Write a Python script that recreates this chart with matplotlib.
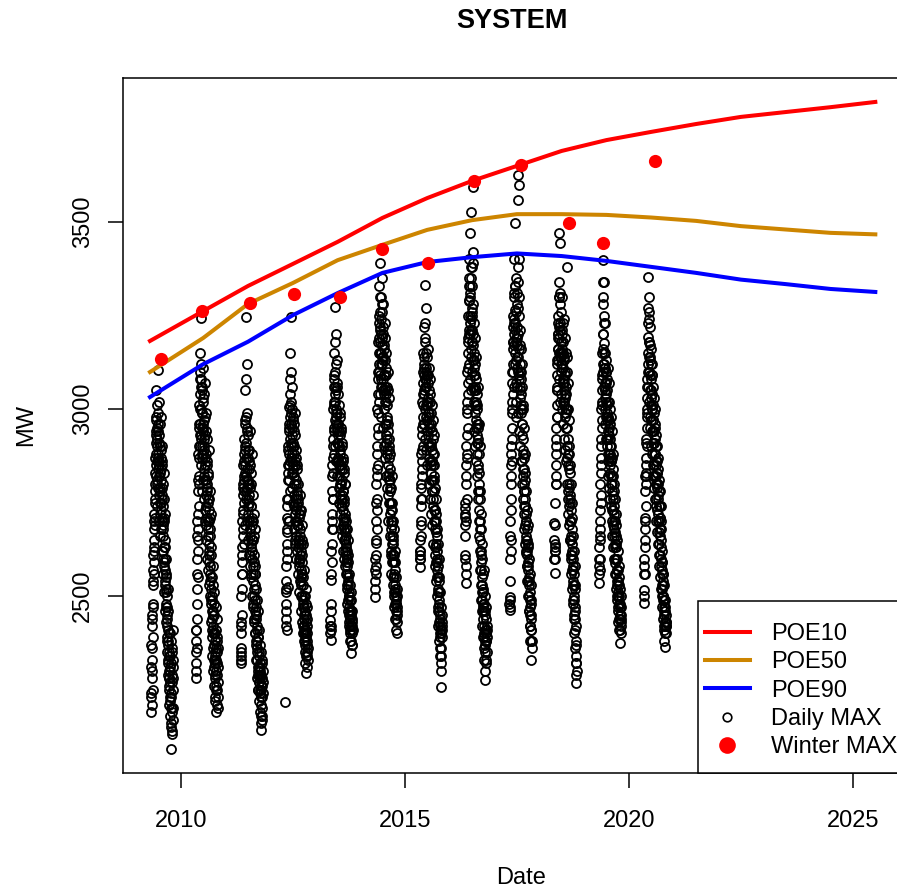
import numpy as np
import pandas as pd
import matplotlib
matplotlib.use('Agg')
import matplotlib.pyplot as plt
import matplotlib.dates as mdates
from matplotlib.lines import Line2D
from matplotlib.patches import Rectangle

plt.rcParams['font.family'] = ['Liberation Sans', 'DejaVu Sans']

# POE curves (MW), read at these dates
curve_dates = ['2009-04-23'] + ['%d-07-01' % y for y in range(2010, 2026)]
poe10 = [3182, 3262, 3329, 3388, 3447, 3511, 3564, 3610, 3650, 3690, 3719,
         3741, 3762, 3781, 3794, 3807, 3821]
poe50 = [3099, 3190, 3281, 3337, 3398, 3439, 3479, 3505, 3521, 3521, 3519,
         3512, 3503, 3489, 3480, 3471, 3467]
poe90 = [3032, 3120, 3180, 3251, 3310, 3364, 3393, 3406, 3416, 3409, 3396,
         3380, 3364, 3346, 3334, 3321, 3313]

# winter maximum per season
winter_dates = ['2009-07-19', '2010-06-24', '2011-07-16', '2012-07-08',
                '2013-07-16', '2014-06-28', '2015-07-05', '2016-07-16',
                '2017-08-04', '2018-09-02', '2019-06-07', '2020-08-03']
winter_max = [3134, 3262, 3283, 3308, 3299, 3428, 3390, 3610, 3652, 3497,
              3443, 3663]

# daily maximum (MW), one value per day from 1 May of each winter season
daily_2009 = [2240, 2370, 2310, 2230, 2190, 2300, 2420, 2330, 2280, 2440, 2360, 2210, 2450, 2390, 2250, 2480, 2530, 2570, 2610, 2540, 2470, 2630, 2680, 2560, 2590, 2700, 2720, 2620, 2650, 2750, 2800, 2710,
              2760, 2830, 2870, 2780, 2690, 2850, 2930, 2880, 2820, 2910, 2980, 2940, 3050, 2970, 2900, 2810, 2740, 2800, 2860, 2920, 2950, 3010, 3104, 2960, 2880, 2840, 2790, 2870, 2940, 2990,
              3020, 2930, 2850, 2770, 2700, 2820, 2910, 2860, 2780, 2720, 2960, 2900, 2830, 2750, 2660, 2790, 2890, 2840, 2750, 2680, 2980, 2870, 2810, 2730, 2700, 2790, 2860, 2760, 2620, 2710, 2770, 2850,
              2900, 2800, 2680, 2600, 2560, 2690, 2740, 2660, 2620, 2760, 2830, 2710, 2510, 2580, 2700, 2630, 2590, 2530, 2460, 2570, 2650, 2600, 2540, 2630, 2720, 2550, 2480, 2520, 2600, 2470,
              2430, 2510, 2560, 2440, 2380, 2470, 2500, 2390, 2350, 2420, 2450, 2320, 2290, 2370, 2410, 2460, 2520, 2380, 2330, 2280, 2260, 2340, 2400, 2300, 2210, 2280, 2350, 2250, 2300, 2230,
              2180, 2220, 2270, 2340, 2400, 2310, 2150, 2230, 2320, 2380, 2240, 2160, 2090, 2200, 2360, 2270, 2200, 2140, 2290, 2350, 2130, 2190, 2410, 2310, 2250, 2200, 2170, 2280, 2330]
daily_2010 = [2300, 2410, 2380, 2320, 2280, 2350, 2410, 2480, 2520, 2440, 2360, 2560, 2600, 2660, 2700, 2620, 2550, 2680, 2780, 2720, 2650, 2810, 2880, 2800, 2740, 2900, 2950, 2870, 2820, 2960, 3010, 2930,
              2900, 3040, 3080, 3000, 2960, 3100, 3150, 3060, 2850, 2930, 3000, 3120, 3243, 3080, 2920, 2990, 3060, 2900, 2780, 2880, 2990, 3050, 2870, 2950, 3110, 3020, 2940, 2880, 2810, 2960,
              3030, 2950, 2890, 2820, 2760, 2900, 2970, 3040, 2840, 2920, 3070, 2980, 2700, 2850, 2930, 2870, 2810, 2730, 2650, 2770, 2880, 2940, 2990, 2810, 2740, 2690, 2860, 2780, 2600, 2710, 2790, 2850,
              2920, 2800, 2680, 2760, 2830, 2700, 2570, 2660, 2750, 2820, 2640, 2590, 2890, 2730, 2530, 2620, 2700, 2760, 2610, 2540, 2780, 2680, 2500, 2580, 2660, 2710, 2560, 2490, 2720, 2630,
              2480, 2550, 2610, 2520, 2430, 2490, 2550, 2460, 2390, 2440, 2500, 2410, 2340, 2400, 2460, 2530, 2580, 2450, 2300, 2360, 2420, 2480, 2370, 2310, 2510, 2400, 2260, 2330, 2450, 2380,
              2350, 2280, 2230, 2320, 2400, 2340, 2290, 2220, 2190, 2260, 2330, 2410, 2470, 2360, 2250, 2300, 2380, 2290, 2210, 2250, 2320, 2390, 2440, 2350, 2270, 2230, 2200, 2310, 2360]
daily_2011 = [2330, 2350, 2360, 2400, 2420, 2340, 2320, 2430, 2500, 2560, 2610, 2520, 2450, 2590, 2700, 2630, 2560, 2680, 2790, 2720, 2660, 2770, 2850, 2800, 2730, 2860, 2920, 2810, 2640, 2750, 2880, 2820,
              2780, 2890, 2960, 2850, 2690, 2900, 3050, 2970, 2830, 2780, 2910, 3080, 3246, 2980, 2760, 2820, 2870, 2940, 2990, 2810, 2700, 2790, 2840, 2950, 3120, 2890, 2650, 2760, 2930, 2870,
              2800, 2740, 2720, 2810, 2890, 2770, 2610, 2700, 2860, 2800, 2750, 2840, 2940, 2680, 2580, 2660, 2790, 2850, 2680, 2610, 2830, 2740, 2550, 2640, 2740, 2800, 2630, 2560, 2880, 2710, 2500, 2620,
              2700, 2650, 2600, 2690, 2770, 2580, 2470, 2560, 2650, 2700, 2540, 2480, 2720, 2590, 2430, 2520, 2610, 2660, 2500, 2440, 2680, 2560, 2400, 2490, 2580, 2530, 2460, 2400, 2560, 2450,
              2380, 2450, 2520, 2470, 2440, 2370, 2330, 2410, 2490, 2360, 2280, 2330, 2420, 2380, 2350, 2290, 2250, 2310, 2460, 2390, 2300, 2250, 2390, 2310, 2220, 2270, 2340, 2290, 2270, 2350,
              2410, 2300, 2190, 2240, 2310, 2280, 2250, 2320, 2370, 2260, 2160, 2210, 2290, 2350, 2230, 2180, 2142, 2250, 2330, 2280, 2200, 2170, 2260, 2320, 2180, 2230, 2300, 2270, 2240]
daily_2012 = [2217, 2480, 2420, 2540, 2510, 2440, 2460, 2520, 2580, 2640, 2409, 2600, 2670, 2710, 2740, 2680, 2620, 2760, 2810, 2700, 2524, 2830, 2890, 2850, 2760, 2900, 2950, 2810, 2700, 2880, 3005, 2940,
              2850, 2960, 3080, 3010, 2920, 2860, 2780, 2980, 3150, 3040, 2960, 2900, 2870, 3100, 3246, 3020, 2990, 2910, 2830, 2880, 2930, 3000, 3060, 2950, 2790, 2860, 2910, 2980, 2840, 2900,
              2970, 2850, 2750, 2830, 2900, 2960, 2820, 2740, 2680, 2800, 2940, 2880, 2770, 2700, 2860, 2930, 2720, 2650, 2990, 2850, 2640, 2760, 2810, 2870, 2730, 2660, 2890, 2800, 2600, 2690, 2780, 2850,
              2700, 2770, 2840, 2740, 2620, 2690, 2760, 2650, 2560, 2630, 2690, 2750, 2800, 2710, 2580, 2640, 2720, 2600, 2510, 2590, 2650, 2720, 2770, 2660, 2540, 2610, 2680, 2730, 2600, 2550,
              2730, 2640, 2500, 2570, 2620, 2530, 2460, 2540, 2590, 2650, 2690, 2560, 2430, 2500, 2560, 2610, 2480, 2420, 2640, 2550, 2400, 2470, 2530, 2490, 2450, 2400, 2380, 2440, 2570, 2500,
              2420, 2470, 2500, 2410, 2350, 2400, 2460, 2380, 2320, 2370, 2410, 2480, 2520, 2430, 2294, 2340, 2390, 2450, 2440, 2370, 2340, 2420, 2470, 2380, 2310, 2350, 2400, 2330, 2360]
daily_2013 = [2400, 2420, 2436, 2410, 2382, 2460, 2543, 2480, 2420, 2560, 2620, 2680, 2700, 2640, 2590, 2720, 2780, 2820, 2850, 2760, 2680, 2830, 2920, 2870, 2760, 2900, 3000, 2940, 2880, 3010, 3080, 3020,
              2950, 3060, 3150, 3090, 3020, 2970, 2900, 3060, 3273, 3180, 3100, 3040, 2980, 3120, 3200, 3000, 2860, 2960, 3050, 2990, 2940, 3060, 3130, 2950, 2820, 2910, 2990, 3070, 2910, 2860,
              3040, 2960, 2870, 2930, 2960, 2860, 2790, 2900, 3010, 2940, 2900, 2820, 2750, 2850, 2930, 2990, 2840, 2770, 2980, 2890, 2720, 2800, 2880, 2940, 2800, 2740, 2950, 2860, 2680, 2760, 2850, 2910,
              2770, 2840, 2900, 2760, 2660, 2740, 2810, 2870, 2730, 2690, 2860, 2780, 2620, 2710, 2780, 2830, 2700, 2650, 2840, 2760, 2600, 2680, 2750, 2800, 2670, 2620, 2800, 2710, 2580, 2650,
              2720, 2680, 2640, 2590, 2560, 2630, 2700, 2660, 2610, 2560, 2520, 2600, 2680, 2620, 2580, 2530, 2480, 2560, 2650, 2590, 2540, 2490, 2460, 2530, 2610, 2550, 2500, 2450, 2430, 2500,
              2560, 2510, 2470, 2420, 2400, 2460, 2530, 2490, 2450, 2410, 2380, 2440, 2510, 2460, 2420, 2380, 2348, 2420, 2490, 2450, 2400, 2370, 2440, 2410, 2370, 2420, 2460, 2430, 2410]
daily_2014 = [2520, 2570, 2600, 2540, 2497, 2580, 2642, 2610, 2560, 2650, 2700, 2750, 2800, 2730, 2680, 2820, 2900, 2840, 2760, 2880, 3000, 2930, 2850, 2990, 3100, 3040, 2950, 3080, 3180, 3120, 3020, 3150,
              3250, 3190, 3100, 3230, 3330, 3260, 3180, 3090, 3040, 3210, 3390, 3300, 3220, 3150, 3080, 3200, 3300, 3240, 3150, 3060, 2980, 3120, 3260, 3190, 3120, 3280, 3350, 3170, 3060, 3140,
              3200, 3080, 2950, 3050, 3140, 3220, 3280, 3130, 3000, 3090, 3170, 3040, 2900, 3000, 3090, 3160, 3230, 3060, 2870, 2960, 3050, 3130, 3190, 3020, 2930, 3040, 3110, 2960, 2820, 2910, 3020, 3090,
              3150, 3010, 2880, 2970, 3060, 2920, 2790, 2890, 2980, 3050, 3100, 2960, 2850, 2770, 2700, 2820, 2940, 2870, 2810, 2920, 3030, 2890, 2750, 2830, 2900, 2780, 2660, 2750, 2840, 2790,
              2720, 2810, 2880, 2750, 2620, 2700, 2790, 2730, 2680, 2610, 2560, 2660, 2750, 2690, 2640, 2730, 2820, 2700, 2590, 2650, 2700, 2610, 2530, 2590, 2660, 2640, 2610, 2550, 2500, 2590,
              2680, 2610, 2560, 2510, 2470, 2550, 2620, 2570, 2520, 2480, 2440, 2510, 2590, 2530, 2480, 2440, 2409, 2480, 2550, 2500, 2460, 2490, 2520, 2470, 2430, 2460, 2500, 2450, 2401]
daily_2015 = [2600, 2620, 2650, 2610, 2578, 2600, 2620, 2660, 2700, 2760, 2800, 2740, 2690, 2790, 2880, 2820, 2760, 2860, 2950, 2890, 2840, 2930, 3020, 2960, 2900, 3010, 3100, 3040, 2980, 3070, 3150, 3110,
              3050, 3140, 3219, 3090, 2960, 3040, 3120, 3230, 3332, 3190, 3080, 3000, 2920, 3060, 3180, 3100, 3010, 3150, 3270, 3080, 2890, 2980, 3060, 3110, 3140, 3020, 2940, 3010, 3090, 2970,
              2850, 2940, 3020, 3090, 3160, 3030, 2910, 2990, 3070, 2930, 2800, 2900, 2990, 3050, 3110, 2980, 2870, 2960, 3040, 2900, 2760, 2860, 2950, 3020, 3080, 2950, 2830, 2910, 2990, 2850, 2720, 2810,
              2900, 2960, 3010, 2890, 2780, 2860, 2940, 2810, 2690, 2780, 2860, 2920, 2970, 2850, 2740, 2810, 2880, 2760, 2640, 2730, 2820, 2880, 2930, 2810, 2700, 2780, 2850, 2730, 2610, 2700,
              2790, 2730, 2680, 2630, 2580, 2670, 2760, 2700, 2640, 2590, 2540, 2630, 2720, 2660, 2600, 2550, 2500, 2590, 2680, 2620, 2570, 2510, 2460, 2550, 2640, 2580, 2520, 2470, 2420, 2510,
              2600, 2540, 2480, 2430, 2380, 2460, 2550, 2490, 2440, 2390, 2340, 2420, 2510, 2450, 2400, 2360, 2321, 2400, 2470, 2410, 2360, 2300, 2257, 2340, 2430, 2410, 2390, 2420, 2450]
daily_2016 = [2720, 2735, 2749, 2690, 2610, 2660, 2711, 2600, 2535, 2560, 2580, 2700, 2800, 2850, 2900, 2820, 2760, 2880, 3000, 2930, 2870, 2990, 3100, 3020, 2950, 3070, 3180, 3110, 3040, 3150, 3250, 3190,
              3120, 3210, 3291, 3350, 3400, 3290, 3200, 3330, 3471, 3250, 3080, 3200, 3330, 3310, 3300, 3230, 3160, 3350, 3526, 3380, 3240, 3140, 3050, 3210, 3380, 3270, 3180, 3250, 3330, 3210,
              3100, 3180, 3260, 3420, 3594, 3390, 3200, 3130, 3060, 3170, 3280, 3110, 2940, 3050, 3150, 3090, 3020, 3130, 3230, 3060, 2900, 3010, 3120, 3050, 2990, 3090, 3190, 3020, 2860, 2970, 3080, 3010,
              2950, 3050, 3140, 3010, 2880, 2960, 3040, 2930, 2820, 2910, 3000, 2960, 2920, 2840, 2760, 2910, 3060, 2950, 2850, 2780, 2700, 2830, 2960, 2880, 2800, 2730, 2660, 2780, 2900, 2760,
              2620, 2700, 2780, 2680, 2570, 2650, 2720, 2620, 2530, 2610, 2680, 2590, 2490, 2570, 2640, 2550, 2460, 2530, 2600, 2510, 2420, 2490, 2560, 2470, 2390, 2460, 2520, 2480, 2440, 2510,
              2570, 2460, 2360, 2420, 2480, 2400, 2330, 2390, 2450, 2370, 2300, 2350, 2410, 2460, 2500, 2380, 2275, 2330, 2380, 2410, 2440, 2380, 2320, 2400, 2470, 2410, 2350, 2390, 2420]
daily_2017 = [2480, 2490, 2497, 2470, 2463, 2540, 2600, 2660, 2700, 2620, 2650, 2730, 2800, 2850, 2900, 2820, 2760, 2880, 3000, 2920, 2860, 2990, 3100, 3020, 2950, 3070, 3180, 3100, 3040, 3160, 3250, 3180,
              3120, 3220, 3300, 3240, 3200, 3310, 3400, 3230, 3060, 3170, 3265, 3210, 3150, 3330, 3497, 3330, 3230, 3120, 3020, 3190, 3350, 3260, 3180, 3070, 2980, 3130, 3280, 3190, 3110, 3170,
              3220, 3140, 3060, 3310, 3559, 3340, 3140, 3380, 3626, 3270, 2990, 3100, 3200, 3400, 3600, 3300, 3080, 3160, 3250, 3090, 2940, 3060, 3170, 3100, 3030, 3120, 3210, 3050, 2900, 3000, 3100, 3040,
              2990, 3080, 3160, 3010, 2860, 2960, 3060, 3000, 2930, 2860, 2800, 2960, 3120, 3000, 2880, 2820, 2760, 2890, 3010, 2920, 2840, 2780, 2720, 2840, 2950, 2870, 2800, 2740, 2680, 2780,
              2880, 2810, 2740, 2690, 2640, 2740, 2830, 2760, 2700, 2650, 2615, 2700, 2780, 2720, 2660, 2620, 2580, 2650, 2730, 2680, 2620, 2580, 2540, 2610, 2690, 2630, 2580, 2540, 2500, 2570,
              2640, 2590, 2540, 2500, 2460, 2530, 2600, 2550, 2500, 2460, 2420, 2490, 2560, 2510, 2470, 2420, 2380, 2450, 2530, 2480, 2440, 2380, 2329, 2410, 2490, 2450, 2410, 2380, 2360]
daily_2018 = [2600, 2650, 2695, 2620, 2561, 2600, 2640, 2630, 2620, 2690, 2750, 2800, 2850, 2820, 2800, 2880, 2950, 2920, 2900, 2980, 3050, 3010, 2980, 3050, 3120, 3090, 3060, 3130, 3200, 3160, 3130, 3190,
              3250, 3200, 3160, 3230, 3300, 3190, 3080, 3150, 3220, 3340, 3471, 3300, 3140, 3210, 3280, 3150, 3020, 3230, 3444, 3310, 3180, 3140, 3100, 3180, 3260, 3150, 3040, 3120, 3200, 3160,
              3120, 3210, 3300, 3150, 3000, 3110, 3230, 3150, 3080, 3020, 2960, 3070, 3180, 3110, 3050, 3140, 3240, 3080, 2920, 3020, 3130, 3070, 3010, 3100, 3190, 3040, 2890, 2990, 3090, 3030, 2980, 3060,
              3150, 3000, 2860, 2950, 3040, 2990, 2950, 2870, 2800, 2950, 3100, 3000, 2900, 3140, 3380, 3070, 2760, 2880, 3000, 2920, 2850, 2780, 2720, 2840, 2970, 2880, 2800, 2740, 2690, 2790,
              2900, 2830, 2760, 2700, 2650, 2750, 2850, 2770, 2700, 2650, 2600, 2700, 2800, 2730, 2660, 2610, 2560, 2650, 2750, 2680, 2620, 2570, 2520, 2610, 2710, 2640, 2580, 2530, 2480, 2570,
              2660, 2600, 2540, 2490, 2440, 2530, 2620, 2560, 2500, 2450, 2400, 2490, 2580, 2520, 2460, 2410, 2360, 2440, 2530, 2470, 2420, 2370, 2320, 2290, 2267, 2320, 2380, 2340, 2300]
daily_2019 = [2560, 2600, 2631, 2580, 2535, 2570, 2600, 2650, 2700, 2680, 2660, 2730, 2800, 2770, 2750, 2830, 2900, 2870, 2850, 2920, 3000, 2970, 2950, 3010, 3080, 3050, 3020, 3090, 3150, 3120, 3100, 3160,
              3200, 3300, 3398, 3340, 3280, 3200, 3120, 3230, 3340, 3250, 3176, 3110, 3060, 3150, 3230, 3110, 3000, 3070, 3150, 3050, 2960, 3030, 3100, 3070, 3040, 2980, 2920, 3020, 3130, 3100,
              3080, 2990, 2900, 2970, 3050, 3010, 2980, 2920, 2860, 2980, 3110, 3020, 2940, 2880, 2820, 2920, 3020, 2950, 2880, 2970, 3070, 2930, 2790, 2870, 2960, 2900, 2850, 2920, 3000, 2880, 2760, 2830,
              2900, 2860, 2820, 2900, 2980, 2860, 2740, 2800, 2870, 2780, 2700, 2820, 2940, 2870, 2800, 2730, 2660, 2770, 2880, 2820, 2760, 2690, 2630, 2730, 2840, 2780, 2720, 2660, 2600, 2700,
              2800, 2740, 2680, 2630, 2588, 2670, 2760, 2700, 2640, 2600, 2560, 2640, 2720, 2660, 2600, 2560, 2520, 2600, 2690, 2630, 2570, 2530, 2490, 2570, 2650, 2600, 2540, 2500, 2460, 2540,
              2620, 2570, 2510, 2470, 2430, 2500, 2580, 2530, 2480, 2440, 2410, 2480, 2550, 2500, 2450, 2410, 2374, 2450, 2520, 2480, 2440, 2470, 2500, 2450, 2400, 2430, 2470, 2440, 2420]
daily_2020 = [2481, 2500, 2516, 2560, 2600, 2580, 2560, 2630, 2700, 2680, 2650, 2710, 2780, 2820, 2850, 2800, 2740, 2830, 2920, 2870, 2820, 2910, 3000, 2950, 2900, 2990, 3080, 3030, 2980, 3060, 3150, 3100,
              3060, 3120, 3193, 3270, 3353, 3230, 3100, 3180, 3260, 3140, 3020, 3100, 3180, 3240, 3300, 3140, 2980, 3050, 3130, 3170, 3220, 3090, 2950, 3010, 3080, 3120, 3160, 3030, 2900, 2970,
              3050, 3090, 3120, 3000, 2880, 2940, 3000, 3040, 3090, 2970, 2850, 2910, 2970, 3010, 3060, 2940, 2820, 2880, 2940, 2990, 3030, 2910, 2790, 2850, 2910, 2950, 3000, 2880, 2760, 2820, 2880, 2920,
              2960, 2850, 2740, 2800, 2860, 2900, 2930, 2820, 2700, 2760, 2830, 2860, 2900, 2790, 2670, 2730, 2800, 2830, 2870, 2760, 2640, 2700, 2770, 2800, 2840, 2720, 2610, 2670, 2740, 2780,
              2810, 2700, 2580, 2640, 2710, 2740, 2780, 2660, 2550, 2610, 2680, 2710, 2740, 2630, 2520, 2580, 2650, 2680, 2700, 2600, 2500, 2560, 2620, 2590, 2570, 2520, 2470, 2530, 2590, 2560,
              2540, 2490, 2440, 2500, 2560, 2530, 2500, 2450, 2410, 2470, 2530, 2490, 2460, 2420, 2380, 2430, 2490, 2460, 2430, 2400, 2364, 2420, 2470, 2430, 2400, 2420, 2450, 2430, 2420]

seasons = {2009: daily_2009, 2010: daily_2010, 2011: daily_2011, 2012: daily_2012,
           2013: daily_2013, 2014: daily_2014, 2015: daily_2015, 2016: daily_2016,
           2017: daily_2017, 2018: daily_2018, 2019: daily_2019, 2020: daily_2020}

fig = plt.figure(figsize=(8.97, 8.90), dpi=100)
# plot region runs past the right edge of the picture, as in the original
ax = fig.add_axes([123/897, 1 - 773/890, 796/897, 695/890])

for yr, vals in seasons.items():
    d = pd.date_range('%d-05-01' % yr, periods=len(vals), freq='D')
    ax.plot(d, vals, linestyle='none', marker='o', ms=6.5, mfc='none',
            mec='black', mew=1.3, zorder=2)

cd = pd.to_datetime(curve_dates)
ax.plot(cd, poe10, color='#FF0000', lw=2.9, zorder=3)
ax.plot(cd, poe50, color='#CD8500', lw=2.9, zorder=3)
ax.plot(cd, poe90, color='#0000FF', lw=2.9, zorder=3)

ax.plot(pd.to_datetime(winter_dates), winter_max, linestyle='none', marker='o',
        ms=9.5, mfc='#FF0000', mec='#FF0000', mew=0, zorder=4)

ax.set_xlim(pd.Timestamp('2008-09-15'), pd.Timestamp('2026-06-22'))
ax.set_ylim(2027, 3885)

ax.set_xticks(pd.to_datetime(['2010-01-01', '2015-01-01', '2020-01-01', '2025-01-01']))
ax.xaxis.set_major_formatter(mdates.DateFormatter('%Y'))
ax.set_yticks([2500, 3000, 3500])
ax.set_yticklabels(['2500', '3000', '3500'], rotation=90, va='center')
ax.tick_params(axis='both', direction='out', length=10.8, width=1.1,
               labelsize=17, colors='black')
ax.tick_params(axis='x', pad=16)
ax.tick_params(axis='y', pad=10)
for s in ax.spines.values():
    s.set_linewidth(1.1)

ax.set_xlabel('Date', fontsize=17, va='center')
ax.xaxis.set_label_coords(0.5, -(878 - 773) / 695)
ax.set_ylabel('MW', fontsize=17, va='center')
ax.yaxis.set_label_coords(-(123 - 26) / 796, 0.5)
ax.set_title('SYSTEM', fontsize=19.5, fontweight='bold', x=(512 - 123) / 796,
             y=1 + (78 - 21.5) / 695, va='center', pad=0)

# legend box sits in the bottom-right corner and runs off the picture
box = Rectangle(((698 - 123) / 796, 0), 1 - (698 - 123) / 796, (773 - 601) / 695,
                transform=ax.transAxes, facecolor='white', edgecolor='black',
                lw=1.1, zorder=5, clip_on=False)
ax.add_patch(box)

handles = [Line2D([], [], color='#FF0000', lw=2.9),
           Line2D([], [], color='#CD8500', lw=2.9),
           Line2D([], [], color='#0000FF', lw=2.9),
           Line2D([], [], linestyle='none', marker='o', ms=6.2, mfc='none', mec='black', mew=1.2),
           Line2D([], [], linestyle='none', marker='o', ms=12, mfc='#FF0000', mec='#FF0000', mew=0)]
labels = ['POE10', 'POE50', 'POE90', 'Daily MAX', 'Winter MAX']
leg = ax.legend(handles, labels, loc='upper left',
                bbox_to_anchor=((705 - 123) / 796, (773 - 623) / 695),
                fontsize=17, frameon=False, borderaxespad=0, borderpad=0,
                handlelength=1.9, handletextpad=0.9, labelspacing=0.265)
leg.set_zorder(6)

fig.savefig('out.png', dpi=100)
